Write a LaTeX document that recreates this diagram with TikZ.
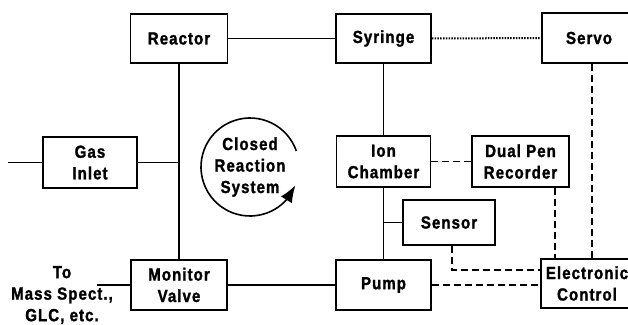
\documentclass[tikz,border=0pt]{standalone}
\usepackage{fontspec}
\setmainfont{Liberation Sans}[FakeStretch=0.86,LetterSpace=6,BoldFeatures={FakeBold=1.5}]
\usetikzlibrary{arrows.meta,bending}

\begin{document}
\begin{tikzpicture}[x=1pt,y=1pt,
  unit/.style={draw,line width=1.6pt,inner sep=0pt,align=center,
    font=\bfseries\fontsize{17.5}{21.5}\selectfont},
  label/.style={inner sep=0pt,align=center,font=\bfseries\fontsize{17.5}{21.5}\selectfont},
  link/.style={line width=1.6pt},
  dashlink/.style={line width=1.6pt,dash pattern=on 7pt off 4pt},
  dotlink/.style={line width=2pt,dash pattern=on 1.5pt off 1.3pt}]
\useasboundingbox (0,0) rectangle (628,324);
\clip (0,0) rectangle (628,324);
% blocks
\node[unit,minimum width=97,minimum height=49] (reactor) at (179,285.5) {Reactor};
\node[unit,minimum width=95,minimum height=49] (syringe) at (383.5,285.5) {Syringe};
\node[unit,minimum width=94,minimum height=50] (servo) at (589,286) {Servo};
\node[unit,minimum width=94,minimum height=51] (gas) at (90,161.5) {Gas\\Inlet};
\node[unit,minimum width=94,minimum height=51] (ion) at (383.5,162.5) {Ion\\Chamber};
\node[unit,minimum width=97,minimum height=51] (recorder) at (520.5,162.5) {Dual Pen\\Recorder};
\node[unit,minimum width=92,minimum height=45] (sensor) at (449,101.5) {Sensor};
\node[unit,minimum width=96,minimum height=50] (monitor) at (179,39) {Monitor\\Valve};
\node[unit,minimum width=95,minimum height=50] (pump) at (383.5,39) {Pump};
\node[unit,minimum width=92,minimum height=49] (control) at (587,40.5) {Electronic\\Control};
\node[label] (dest) at (62,29) {To\\Mass Spect.,\\GLC, etc.};
\node[label] (cycle) at (250,157) {Closed\\Reaction\\System};
\coordinate (gasfree) at (8,161.5);
\coordinate (tofree) at (97,39);
% solid lines
\draw[link] (gasfree) -- (gas.west);
\draw[link] (gas.east) -- (gas.east -| reactor.south);
\draw[link] (reactor.east) -- (syringe.west);
\draw[link] (reactor.south) -- (monitor.north);
\draw[link] (tofree) -- (monitor.west);
\draw[link] (monitor.east) -- (pump.west);
\draw[link] (syringe.south) -- (ion.north);
\draw[link] (ion.south) -- (pump.north);
\draw[link] (ion.south |- sensor.west) -- (sensor.west);
% signal lines
\draw[dotlink] (syringe.east) -- (servo.west);
\draw[dashlink] (ion.east) -- (recorder.west);
\draw[dashlink] ([xshift=3pt]servo.south) -- ([xshift=3pt]servo.south |- control.north);
\draw[dashlink] ([xshift=34.5pt]recorder.south) -- ([xshift=34.5pt]recorder.south |- control.north);
\draw[dashlink] ([xshift=3pt]sensor.south) |- ([yshift=13.5pt]control.west);
\draw[dashlink] (pump.east) -- (pump.east -| control.west);
% loop arrow
\draw[link,-{Latex[length=17pt,width=13pt,flex]}] ([shift={(19:49)}]cycle.center) arc[start angle=19,end angle=338,radius=49];
\end{tikzpicture}
\end{document}
